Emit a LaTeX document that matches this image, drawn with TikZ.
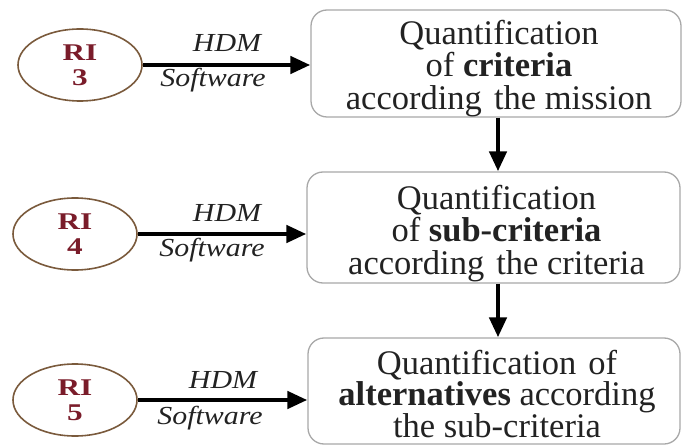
\documentclass[tikz,border=0pt]{standalone}
\usepackage{fontspec}
\setmainfont{Liberation Serif}
\newfontfamily\rifont[FakeStretch=1.3]{Liberation Serif}
\newfontfamily\lblfont[FakeStretch=1.15]{Liberation Serif}
\usetikzlibrary{shapes.geometric,arrows.meta}
\definecolor{ribrown}{HTML}{7A5A3C}
\definecolor{rired}{HTML}{7A1C2A}
\definecolor{boxgrey}{HTML}{A8A8A8}
\definecolor{txtgrey}{HTML}{222222}
\tikzset{
  riell/.style={ellipse, draw=ribrown, line width=1.6pt, minimum width=124pt, minimum height=72pt, inner sep=0pt,
    text=rired, align=center, font=\rifont\bfseries\fontsize{24}{24}\selectfont},
  qbox/.style={rectangle, rounded corners=16pt, draw=boxgrey, line width=1.3pt, inner sep=0pt},
  qtext/.style={text=txtgrey, align=center, inner sep=0pt, font=\fontsize{34.5}{32.5}\selectfont},
  bigarrow/.style={line width=4.5pt, -{Triangle[length=20pt,width=17pt]}},
  lbl/.style={font=\lblfont\itshape\fontsize{26}{26}\selectfont, text=txtgrey, inner sep=0pt}
}
\begin{document}
\begin{tikzpicture}[x=1pt,y=-1pt]
\useasboundingbox (0,0) rectangle (682,446);
% ellipses
\node[riell] (e1) at (80,65) {RI\\[1pt]3};
\node[riell] (e2) at (75,234) {RI\\[1pt]4};
\node[riell] (e3) at (75,400) {RI\\[1pt]5};
% boxes
\node[qbox, minimum width=370pt, minimum height=107pt] (b1) at (496,63.5) {};
\node[qbox, minimum width=373pt, minimum height=111pt] (b2) at (493.5,227.5) {};
\node[qbox, minimum width=372pt, minimum height=106pt] (b3) at (494,391) {};
\node[qtext] (t1) at ([shift={(3,5)}]b1.center)
  {Quantification\\of \textbf{criteria}\\according\hspace{0.35em}the mission};
\node[qtext] (t2) at ([shift={(3,6)}]b2.center)
  {Quantification\\of \textbf{sub-criteria}\\according\hspace{0.35em}the criteria};
\node[qtext, font=\fontsize{34.5}{31.5}\selectfont] (t3) at ([shift={(3,3)}]b3.center)
  {Quantification\hspace{0.35em}of\\\textbf{alternatives} according\\the sub-criteria};
% horizontal arrows
\draw[bigarrow] (e1.east) -- (e1.east -| b1.west);
\draw[bigarrow] (e2.east) -- (e2.east -| b2.west);
\draw[bigarrow] (e3.east) -- (e3.east -| b3.west);
% vertical arrows
\coordinate (v1) at (498,0);
\draw[bigarrow] (v1 |- b1.south) -- (v1 |- b2.north);
\draw[bigarrow] (v1 |- b2.south) -- (v1 |- b3.north);
% labels
\node[lbl] (h1) at (227,43) {HDM};
\node[lbl] (s1) at (213,80) {Software};
\node[lbl] (h2) at (227,213) {HDM};
\node[lbl] (s2) at (212,250) {Software};
\node[lbl] (h3) at (223,380) {HDM};
\node[lbl] (s3) at (210,418) {Software};
\end{tikzpicture}
\end{document}
